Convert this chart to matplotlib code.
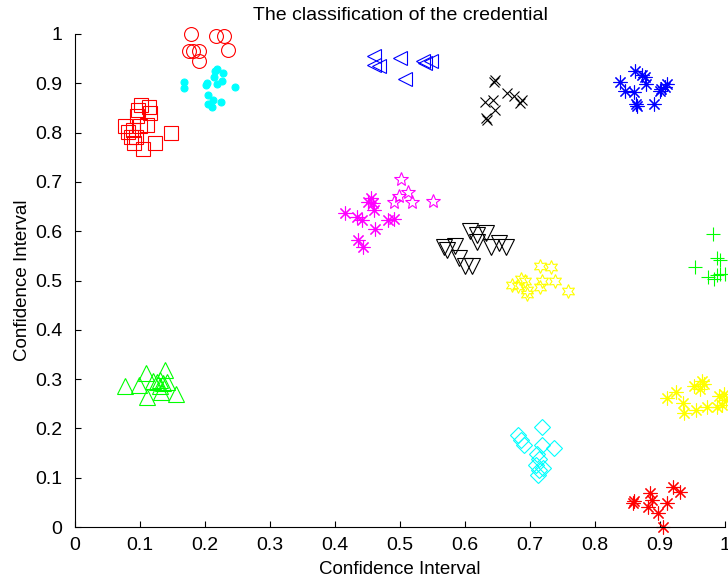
import matplotlib.pyplot as plt
import numpy as np

plt.rcParams['font.family'] = ['Liberation Sans', 'DejaVu Sans']

# red squares
sq_x = [0.1015, 0.114, 0.115, 0.097, 0.096, 0.111, 0.100, 0.077, 0.082, 0.089, 0.086, 0.090, 0.104, 0.123, 0.148, 0.094]
sq_y = [0.856, 0.851, 0.839, 0.846, 0.834, 0.815, 0.813, 0.813, 0.802, 0.805, 0.792, 0.778, 0.766, 0.778, 0.800, 0.792]
# red circles
ci_x = [0.178, 0.217, 0.229, 0.176, 0.182, 0.190, 0.191, 0.236]
ci_y = [1.001, 0.995, 0.995, 0.966, 0.966, 0.966, 0.945, 0.968]
# cyan dots
dot_x = [0.168, 0.168, 0.201, 0.203, 0.218, 0.216, 0.214, 0.228, 0.226, 0.219, 0.205, 0.205, 0.210, 0.213, 0.225, 0.246]
dot_y = [0.903, 0.890, 0.897, 0.900, 0.930, 0.924, 0.913, 0.920, 0.905, 0.899, 0.876, 0.859, 0.851, 0.866, 0.862, 0.893]
# blue left triangles
lt_x = [0.460, 0.460, 0.468, 0.500, 0.508, 0.535, 0.539, 0.548]
lt_y = [0.955, 0.937, 0.935, 0.951, 0.908, 0.946, 0.941, 0.946]
# black crosses
cr_x = [0.646, 0.644, 0.664, 0.675, 0.687, 0.684, 0.643, 0.631, 0.646, 0.632, 0.634]
cr_y = [0.907, 0.903, 0.881, 0.874, 0.867, 0.861, 0.867, 0.863, 0.846, 0.829, 0.826]
# blue asterisks
ba_x = [0.861, 0.873, 0.877, 0.838, 0.878, 0.846, 0.860, 0.863, 0.864, 0.891, 0.902, 0.910, 0.907, 0.900]
ba_y = [0.924, 0.917, 0.912, 0.903, 0.898, 0.884, 0.883, 0.857, 0.853, 0.857, 0.888, 0.898, 0.892, 0.885]
# magenta pentagrams
pe_x = [0.502, 0.498, 0.513, 0.491, 0.518, 0.550]
pe_y = [0.705, 0.671, 0.679, 0.659, 0.659, 0.662]
# magenta asterisks
ma_x = [0.455, 0.451, 0.459, 0.460, 0.415, 0.434, 0.441, 0.482, 0.491, 0.462, 0.436, 0.443]
ma_y = [0.667, 0.660, 0.658, 0.644, 0.636, 0.628, 0.623, 0.623, 0.625, 0.604, 0.583, 0.567]
# black down triangles
dt_x = [0.607, 0.618, 0.632, 0.585, 0.567, 0.573, 0.618, 0.653, 0.640, 0.663, 0.590, 0.600, 0.610]
dt_y = [0.601, 0.592, 0.597, 0.570, 0.567, 0.562, 0.579, 0.577, 0.567, 0.567, 0.545, 0.529, 0.529]
# yellow hexagrams
hx_x = [0.715, 0.733, 0.686, 0.692, 0.672, 0.682, 0.695, 0.695, 0.718, 0.715, 0.738, 0.759]
hx_y = [0.529, 0.527, 0.504, 0.500, 0.491, 0.489, 0.481, 0.473, 0.498, 0.486, 0.500, 0.479]
# green plus
gp_x = [0.982, 0.987, 0.992, 0.954, 0.974, 0.987, 0.992, 0.983, 1.000]
gp_y = [0.594, 0.545, 0.542, 0.527, 0.508, 0.511, 0.513, 0.504, 0.513]
# green up triangles
ut_x = [0.077, 0.099, 0.109, 0.138, 0.120, 0.126, 0.131, 0.136, 0.141, 0.131, 0.133, 0.111, 0.156]
ut_y = [0.286, 0.289, 0.312, 0.318, 0.297, 0.295, 0.298, 0.293, 0.295, 0.286, 0.274, 0.263, 0.270]
# yellow asterisks
ya_x = [0.910, 0.925, 0.935, 0.937, 0.955, 0.952, 0.964, 0.967, 0.962, 0.972, 0.987, 0.990, 0.998, 0.995, 1.002]
ya_y = [0.261, 0.273, 0.252, 0.232, 0.237, 0.286, 0.297, 0.290, 0.279, 0.244, 0.244, 0.266, 0.269, 0.247, 0.258]
# cyan diamonds
di_x = [0.719, 0.682, 0.686, 0.690, 0.719, 0.737, 0.710, 0.714, 0.709, 0.720, 0.714, 0.713]
di_y = [0.203, 0.187, 0.176, 0.166, 0.166, 0.160, 0.149, 0.137, 0.126, 0.119, 0.116, 0.105]
# red asterisks
ra_x = [0.860, 0.859, 0.884, 0.887, 0.882, 0.910, 0.897, 0.920, 0.931, 0.904]
ra_y = [0.053, 0.048, 0.068, 0.055, 0.041, 0.049, 0.029, 0.082, 0.072, 0.001]

ticks = np.arange(0, 1.01, 0.1)
tick_labels = ['0', '0.1', '0.2', '0.3', '0.4', '0.5', '0.6', '0.7', '0.8', '0.9', '1']

fig = plt.figure(figsize=(7.28, 5.83), dpi=100)
ax = fig.add_axes([75/728, 56/583, 650/728, 493/583])

ast = (8, 2, 0)
hexa = (6, 1, 0)
lw = 0.8
kw = dict(linestyle='none', clip_on=False, mew=lw)

ax.plot(sq_x, sq_y, 's', color='red', mfc='none', ms=10, **kw)
ax.plot(ci_x, ci_y, 'o', color='red', mfc='none', ms=10, **kw)
ax.plot(dot_x, dot_y, 'o', color='cyan', ms=5, **kw)
ax.plot(lt_x, lt_y, '<', color='blue', mfc='none', ms=10, **kw)
ax.plot(cr_x, cr_y, 'x', color='black', ms=7, **kw)
ax.plot(ba_x, ba_y, marker=ast, color='blue', ms=10, **kw)
ax.plot(pe_x, pe_y, '*', color='magenta', mfc='none', ms=10, **kw)
ax.plot(ma_x, ma_y, marker=ast, color='magenta', ms=10, **kw)
ax.plot(dt_x, dt_y, 'v', color='black', mfc='none', ms=11, **kw)
ax.plot(hx_x, hx_y, marker=hexa, color='yellow', mfc='none', ms=10, **kw)
ax.plot(gp_x, gp_y, '+', color='lime', ms=10, **kw)
ax.plot(ut_x, ut_y, '^', color='lime', mfc='none', ms=11, **kw)
ax.plot(ya_x, ya_y, marker=ast, color='yellow', ms=10, **kw)
ax.plot(di_x, di_y, 'D', color='cyan', mfc='none', ms=8, **kw)
ax.plot(ra_x, ra_y, marker=ast, color='red', ms=10, **kw)

ax.set_xlim(0, 1)
ax.set_ylim(0, 1)
ax.set_xticks(ticks)
ax.set_xticklabels(tick_labels)
ax.set_yticks(ticks)
ax.set_yticklabels(tick_labels)
ax.spines['top'].set_visible(False)
ax.spines['right'].set_visible(False)
ax.tick_params(direction='in', length=4, labelsize=14)
ax.tick_params(axis='y', pad=9)
ax.tick_params(axis='x', pad=7)
ax.set_xlabel('Confidence Interval', fontsize=13.5, labelpad=5)
ax.set_ylabel('Confidence Interval', fontsize=13.5, labelpad=3)
ax.set_title('The classification of the credential', fontsize=14, pad=10)

fig.savefig('out.png', dpi=100)
